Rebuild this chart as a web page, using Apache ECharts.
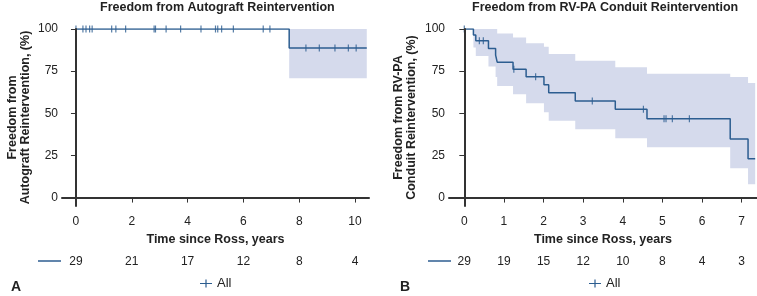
<!DOCTYPE html>
<html>
<head>
<meta charset="utf-8">
<script src="https://cdn.jsdelivr.net/npm/echarts@6/dist/echarts.min.js"></script>
<style>
  html, body { margin: 0; padding: 0; background: #fff; }
  #chart { width: 757px; height: 296px; }
</style>
</head>
<body>
<div id="chart"></div>
<script>
// A: autograft reintervention
const aTimes = [0, 7.64, 10.42]
const aSurv = [100, 88.8, 88.8]
const aUpper = [100, 100, 100]
const aLower = [100, 70.8, 70.8]
const aCensor = [0, 0.25, 0.36, 0.49, 0.58, 1.28, 1.43, 1.78, 2.8, 2.85, 3.23, 3.75,
  4.48, 5.0, 5.08, 5.22, 5.64, 6.71, 6.95, 8.24, 8.72, 9.28, 9.76, 10.04]
const aTicks = [0, 2, 4, 6, 8, 10]
const aRisk = [29, 21, 17, 12, 8, 4]

// B: RV-PA conduit reintervention
const bTimes = [0, 0.23, 0.29, 0.61, 0.79, 0.83, 1.23, 1.56, 2.01, 2.13, 2.8, 3.81, 4.61, 6.71, 7.16, 7.34]
const bSurv = [100, 96.5, 93, 88.5, 84.5, 80.3, 76.1, 71.7, 67, 62.2, 57.3, 52.4, 46.8, 34.8, 23.1, 23.1]
const bUpper = [100, 100, 100, 100, 100, 97.4, 95, 91.5, 89.5, 85.2, 81.2, 77.3, 73.5, 71.5, 68, 68]
const bLower = [100, 89, 84, 77.7, 71.5, 66.2, 61.3, 56, 50.6, 45.5, 40.6, 35.2, 29.8, 17.4, 7.9, 7.9]
const bCensor = [0, 0.38, 0.48, 1.25, 1.8, 3.23, 4.52, 5.04, 5.09, 5.25, 5.68]
const bTicks = [0, 1, 2, 3, 4, 5, 6, 7]
const bRisk = [29, 19, 15, 12, 10, 8, 4, 3]

const yTicks = [0, 25, 50, 75, 100]

const lineColor = '#2c5d90'
const bandColor = '#d5daec'
const textColor = '#222'
const axisColor = '#333'
const font = 'Liberation Sans, Arial, sans-serif'

// survival value at time t (step function)
function survAt(times, surv, t) {
  let v = surv[0]
  for (let i = 0; i < times.length; i++) {
    if (times[i] <= t) v = surv[i]
  }
  return v
}

// corners of a step curve
function stepPoints(times, vals) {
  const pts = []
  for (let i = 0; i < times.length; i++) {
    pts.push([times[i], vals[i]])
    if (i < times.length - 1) pts.push([times[i + 1], vals[i]])
  }
  return pts
}

function bandSeries(idx, times, upper, lower) {
  return {
    type: 'custom',
    xAxisIndex: idx,
    yAxisIndex: idx,
    silent: true,
    z: 1,
    data: [[times[0], upper[0]]],
    renderItem(params, api) {
      const top = stepPoints(times, upper)
      const bottom = stepPoints(times, lower).reverse()
      const points = top.concat(bottom).map(p => api.coord(p))
      return {
        type: 'polygon',
        shape: { points },
        style: { fill: bandColor }
      }
    }
  }
}

function kmSeries(idx, times, surv) {
  return {
    name: 'All',
    type: 'line',
    xAxisIndex: idx,
    yAxisIndex: idx,
    step: 'end',
    showSymbol: false,
    z: 3,
    color: lineColor,
    lineStyle: { color: lineColor, width: 1.5 },
    data: times.map((t, i) => [t, surv[i]])
  }
}

function censorSeries(idx, times, surv, censor) {
  return {
    type: 'scatter',
    xAxisIndex: idx,
    yAxisIndex: idx,
    symbol: 'rect',
    symbolSize: [1.2, 7],
    z: 4,
    itemStyle: { color: lineColor },
    data: censor.map(t => [t, survAt(times, surv, t)])
  }
}

function timeAxis(idx, min, max, ticks) {
  return {
    type: 'value',
    gridIndex: idx,
    min: min,
    max: max,
    z: 5,
    name: 'Time since Ross, years',
    nameLocation: 'middle',
    nameGap: 27,
    nameTextStyle: { fontFamily: font, fontSize: 12.5, fontWeight: 'bold', color: textColor },
    splitLine: { show: false },
    axisLine: { lineStyle: { color: axisColor, width: 2 } },
    axisTick: { customValues: ticks, length: 5, lineStyle: { color: axisColor, width: 1 } },
    axisLabel: { customValues: ticks, margin: 10, fontFamily: font, fontSize: 12, color: textColor }
  }
}

// number-at-risk row drawn as a label-only axis under the time axis
function riskAxis(idx, min, max, ticks, risk) {
  return {
    type: 'value',
    gridIndex: idx,
    position: 'bottom',
    offset: 42,
    min: min,
    max: max,
    splitLine: { show: false },
    axisLine: { show: false },
    axisTick: { show: false },
    axisLabel: {
      customValues: ticks,
      margin: 8,
      fontFamily: font,
      fontSize: 12,
      color: textColor,
      formatter: v => String(risk[ticks.indexOf(v)])
    }
  }
}

function survAxis(idx, label, gap) {
  return {
    type: 'value',
    gridIndex: idx,
    min: -5,
    max: 100,
    z: 5,
    name: label,
    nameLocation: 'middle',
    nameRotate: 90,
    nameGap: gap,
    nameTextStyle: { fontFamily: font, fontSize: 12.5, fontWeight: 'bold', color: textColor, lineHeight: 13 },
    splitLine: { show: false },
    axisLine: { lineStyle: { color: axisColor, width: 2 } },
    axisTick: { customValues: yTicks, length: 5, lineStyle: { color: axisColor, width: 1 } },
    axisLabel: { customValues: yTicks, margin: 4, fontFamily: font, fontSize: 12, color: textColor }
  }
}

const legendIcon = 'path://M0,3.4h12v1.2h-12z M5.4,0h1.2v8h-1.2z'

const myChart = echarts.init(document.getElementById('chart'))
const options = {
  animation: false,
  title: [
    { text: 'Freedom from Autograft Reintervention', left: 100, top: 1, padding: 0,
      textStyle: { fontFamily: font, fontSize: 12.5, fontWeight: 'bold', color: textColor } },
    { text: 'Freedom from RV-PA Conduit Reintervention', left: 472, top: 1, padding: 0,
      textStyle: { fontFamily: font, fontSize: 12.5, fontWeight: 'bold', color: textColor } }
  ],
  grid: [
    { left: 62, top: 29, width: 307, height: 177 },
    { left: 449, top: 29, width: 308, height: 177 }
  ],
  xAxis: [
    timeAxis(0, -0.5, 10.5, aTicks),
    timeAxis(1, -0.386, 7.386, bTicks),
    riskAxis(0, -0.5, 10.5, aTicks, aRisk),
    riskAxis(1, -0.386, 7.386, bTicks, bRisk)
  ],
  yAxis: [
    survAxis(0, 'Freedom from\nAutograft Reintervention, (%)', 30),
    survAxis(1, 'Freedom from RV-PA\nConduit Reintervention, (%)', 31)
  ],
  legend: [
    { left: 200, top: 277, padding: 0, itemWidth: 12, itemHeight: 8, data: [{ name: 'All', icon: legendIcon }],
      textStyle: { fontFamily: font, fontSize: 13, color: textColor } },
    { left: 589, top: 277, padding: 0, itemWidth: 12, itemHeight: 8, data: [{ name: 'All', icon: legendIcon }],
      textStyle: { fontFamily: font, fontSize: 13, color: textColor } }
  ],
  graphic: [
    { type: 'line', shape: { x1: 38, y1: 261, x2: 61, y2: 261 }, style: { stroke: lineColor, lineWidth: 1.5 } },
    { type: 'line', shape: { x1: 428, y1: 261, x2: 451, y2: 261 }, style: { stroke: lineColor, lineWidth: 1.5 } },
    { type: 'text', x: 11, y: 287, style: { text: 'A', font: 'bold 14px ' + font, fill: textColor, verticalAlign: 'middle' } },
    { type: 'text', x: 400, y: 287, style: { text: 'B', font: 'bold 14px ' + font, fill: textColor, verticalAlign: 'middle' } }
  ],
  series: [
    bandSeries(0, aTimes, aUpper, aLower),
    kmSeries(0, aTimes, aSurv),
    censorSeries(0, aTimes, aSurv, aCensor),
    bandSeries(1, bTimes, bUpper, bLower),
    kmSeries(1, bTimes, bSurv),
    censorSeries(1, bTimes, bSurv, bCensor)
  ]
}
myChart.setOption(options)
window.addEventListener('resize', () => {
  myChart.resize()
})
</script>
</body>
</html>
